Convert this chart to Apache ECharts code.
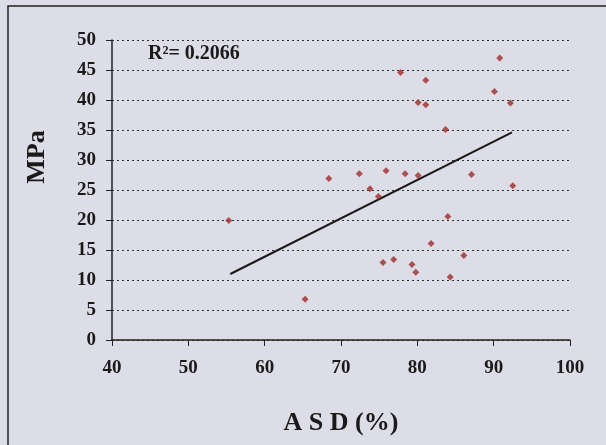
<!DOCTYPE html>
<html>
<head>
<meta charset="utf-8">
<script src="https://cdn.jsdelivr.net/npm/echarts@6/dist/echarts.min.js"></script>
<style>
html,body{margin:0;padding:0;background:#dcdde6;}
#c{width:606px;height:445px;}
</style>
</head>
<body>
<div id="c"></div>
<script>
var asd = [55.3, 65.3, 68.4, 72.4, 73.8, 74.9, 75.5, 75.9, 76.9, 77.8, 78.4, 79.3, 79.8, 80.1, 80.1, 81.1, 81.1, 81.8, 83.7, 84.0, 84.3, 86.1, 87.1, 90.1, 90.8, 92.2, 92.5];
var mpa = [19.9, 6.8, 26.9, 27.7, 25.2, 23.9, 12.9, 28.2, 13.4, 44.6, 27.7, 12.6, 11.3, 39.6, 27.4, 43.3, 39.2, 16.1, 35.1, 20.6, 10.5, 14.1, 27.6, 41.4, 47.0, 39.5, 25.7];
var trendX = [55.5, 92.4];
var trendY = [11.0, 34.6];
var xTicks = [40, 50, 60, 70, 80, 90, 100];
var yTicks = [0, 5, 10, 15, 20, 25, 30, 35, 40, 45, 50];
var r2Label = 'R\u00b2= 0.2066';
var xName = 'A S D (%)';
var yName = 'MPa';

var pts = asd.map(function (x, i) { return [x, mpa[i]]; });
var line = trendX.map(function (x, i) { return [x, trendY[i]]; });
var font = 'Liberation Serif';
var chart = echarts.init(document.getElementById('c'));
chart.setOption({
  backgroundColor: '#dcdde6',
  animation: false,
  grid: { left: 112, top: 40, right: 36, bottom: 105 },
  graphic: [
    { type: 'rect', shape: { x: 8, y: 6, width: 620, height: 460 },
      style: { fill: 'none', stroke: '#222', lineWidth: 1.5 }, z: -1 },
    { type: 'text', left: 148, top: 44,
      style: { text: r2Label, font: 'bold 20px "Liberation Serif"', fill: '#1a1a1a' } },
    { type: 'text', x: 37, y: 157, rotation: Math.PI / 2,
      style: { text: yName, font: 'bold 26px "Liberation Serif"', fill: '#1a1a1a',
               textAlign: 'center', textVerticalAlign: 'middle' } }
  ],
  xAxis: {
    type: 'value', min: xTicks[0], max: xTicks[xTicks.length - 1], interval: 10,
    name: xName, nameLocation: 'middle', nameGap: 70,
    nameTextStyle: { fontFamily: font, fontWeight: 'bold', fontSize: 26, color: '#1a1a1a' },
    axisLine: { lineStyle: { color: '#222', width: 1.5 } },
    axisTick: { length: 6, lineStyle: { color: '#222', width: 1 } },
    axisLabel: { fontFamily: font, fontWeight: 'bold', fontSize: 19, color: '#1a1a1a', margin: 19 },
    splitLine: { show: false }
  },
  yAxis: {
    type: 'value', min: yTicks[0], max: yTicks[yTicks.length - 1], interval: 5,
    axisLine: { show: true, lineStyle: { color: '#222', width: 1.5 } },
    axisTick: { show: true, length: 6, lineStyle: { color: '#222', width: 1 } },
    axisLabel: { fontFamily: font, fontWeight: 'bold', fontSize: 19, color: '#1a1a1a', margin: 16 },
    splitLine: { show: true, lineStyle: { color: '#333', width: 1, type: [2, 3] } }
  },
  series: [
    { type: 'scatter', data: pts, symbol: 'diamond', symbolSize: 7,
      itemStyle: { color: '#a02c2c' }, z: 3 },
    { type: 'line', data: line, symbol: 'none',
      lineStyle: { color: '#1a1a1a', width: 2 }, z: 2 }
  ]
});
</script>
</body>
</html>
